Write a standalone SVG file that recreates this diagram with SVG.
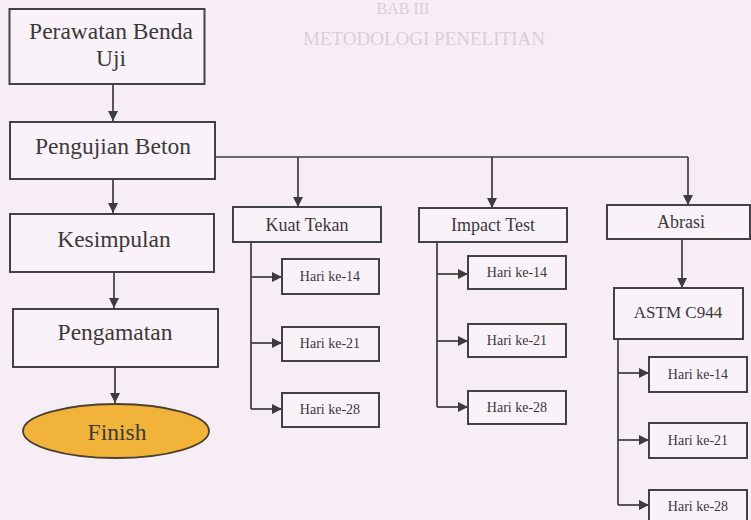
<svg xmlns="http://www.w3.org/2000/svg" width="751" height="520" viewBox="0 0 751 520">
<defs>
<marker id="ah" markerUnits="userSpaceOnUse" markerWidth="12" markerHeight="12" refX="10" refY="5" orient="auto">
<path d="M0,0 L10,5 L0,10 Z" fill="#3c3c3c"/>
</marker>
<style>
.bg{fill:#f7eef5}
.box{fill:#f9f2f8;stroke:#424242;stroke-width:2}
.t{font-family:"Liberation Serif","Times New Roman",serif;fill:#3a3a3a;text-anchor:middle}
.big{font-size:23.5px}
.mid{font-size:18px}
.sm{font-size:14px}
.ln{fill:none;stroke:#3c3c3c;stroke-width:1.7}
.ar{marker-end:url(#ah)}
.ghost{font-family:"Liberation Serif","Times New Roman",serif;fill:#d9cfd8;text-anchor:middle}
</style>
</defs>
<rect class="bg" x="0" y="0" width="751" height="520"/>
<text class="ghost" x="403" y="14" font-size="16">BAB III</text>
<text class="ghost" x="424" y="45" font-size="19">METODOLOGI PENELITIAN</text>

<g id="connectors">
<line class="ln ar" x1="113" y1="84" x2="113" y2="121"/>
<line class="ln ar" x1="113" y1="179" x2="113" y2="213"/>
<line class="ln ar" x1="114" y1="272" x2="114" y2="308"/>
<line class="ln ar" x1="115" y1="367" x2="115" y2="403"/>
<polyline class="ln" points="215,157 688,157"/>
<line class="ln ar" x1="298" y1="157" x2="298" y2="207"/>
<line class="ln ar" x1="492" y1="157" x2="492" y2="208"/>
<line class="ln ar" x1="688" y1="157" x2="688" y2="205"/>
<polyline class="ln" points="251,242 251,409"/>
<line class="ln ar" x1="251" y1="277" x2="282" y2="277"/>
<line class="ln ar" x1="251" y1="343" x2="282" y2="343"/>
<line class="ln ar" x1="251" y1="409" x2="282" y2="409"/>
<polyline class="ln" points="437,242 437,407"/>
<line class="ln ar" x1="437" y1="274" x2="468" y2="274"/>
<line class="ln ar" x1="437" y1="341" x2="468" y2="341"/>
<line class="ln ar" x1="437" y1="407" x2="468" y2="407"/>
<line class="ln ar" x1="682" y1="239" x2="682" y2="288"/>
<polyline class="ln" points="618,339 618,505"/>
<line class="ln ar" x1="618" y1="373" x2="649" y2="373"/>
<line class="ln ar" x1="618" y1="440" x2="649" y2="440"/>
<line class="ln ar" x1="618" y1="505" x2="649" y2="505"/>
</g>

<g id="perawatan">
<rect class="box" x="9.5" y="9" width="195" height="75"/>
<text class="t big" x="111" y="39">Perawatan Benda</text>
<text class="t big" x="111" y="66">Uji</text>
</g>
<g id="pengujian">
<rect class="box" x="10" y="122" width="205" height="57"/>
<text class="t big" x="113" y="154">Pengujian Beton</text>
</g>
<g id="kesimpulan">
<rect class="box" x="10" y="214" width="204" height="58"/>
<text class="t big" x="114" y="247">Kesimpulan</text>
</g>
<g id="pengamatan">
<rect class="box" x="13" y="309" width="205" height="58"/>
<text class="t big" x="115" y="340">Pengamatan</text>
</g>
<g id="finish">
<ellipse cx="116" cy="431" rx="93" ry="27" fill="#f1b33a" stroke="#4a4030" stroke-width="1.8"/>
<text class="t big" x="117" y="440">Finish</text>
</g>

<g id="kuat-tekan">
<rect class="box" x="233" y="207" width="148" height="35"/>
<text class="t mid" x="307" y="231">Kuat Tekan</text>
</g>
<g id="kt-14">
<rect class="box" x="282" y="259" width="97" height="35"/>
<text class="t sm" x="330" y="281">Hari ke-14</text>
</g>
<g id="kt-21">
<rect class="box" x="282" y="327" width="97" height="34"/>
<text class="t sm" x="330" y="348">Hari ke-21</text>
</g>
<g id="kt-28">
<rect class="box" x="282" y="393" width="97" height="34"/>
<text class="t sm" x="330" y="414">Hari ke-28</text>
</g>

<g id="impact-test">
<rect class="box" x="419" y="208" width="148" height="34"/>
<text class="t mid" x="493" y="231">Impact Test</text>
</g>
<g id="it-14">
<rect class="box" x="468" y="256" width="98" height="33"/>
<text class="t sm" x="517" y="277">Hari ke-14</text>
</g>
<g id="it-21">
<rect class="box" x="468" y="324" width="98" height="33"/>
<text class="t sm" x="517" y="345">Hari ke-21</text>
</g>
<g id="it-28">
<rect class="box" x="468" y="391" width="98" height="33"/>
<text class="t sm" x="517" y="412">Hari ke-28</text>
</g>

<g id="abrasi">
<rect class="box" x="607" y="205" width="143" height="34"/>
<text class="t mid" x="681" y="228">Abrasi</text>
</g>
<g id="astm">
<rect class="box" x="614" y="288" width="129" height="51"/>
<text class="t" x="678" y="318" font-size="17">ASTM C944</text>
</g>
<g id="ab-14">
<rect class="box" x="649" y="357" width="98" height="35"/>
<text class="t sm" x="698" y="379">Hari ke-14</text>
</g>
<g id="ab-21">
<rect class="box" x="649" y="423" width="98" height="35"/>
<text class="t sm" x="698" y="445">Hari ke-21</text>
</g>
<g id="ab-28">
<rect class="box" x="649" y="490" width="98" height="34"/>
<text class="t sm" x="698" y="511">Hari ke-28</text>
</g>
</svg>
